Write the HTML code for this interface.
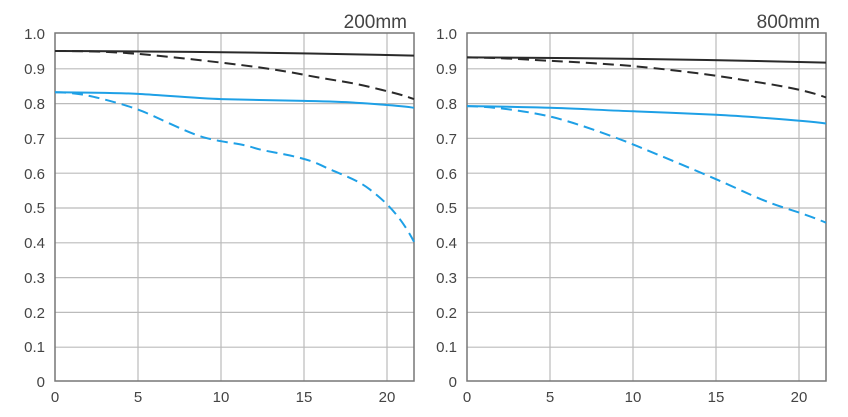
<!DOCTYPE html>
<html><head><meta charset="utf-8"><style>
html,body{margin:0;padding:0;background:#fff;}
svg{display:block;}
text{font-family:"Liberation Sans",sans-serif;fill:#444;}
</style></head><body>
<svg width="848" height="417" viewBox="0 0 848 417" xmlns="http://www.w3.org/2000/svg">
<defs>
<g id="grid">
  <g stroke="#bbb" stroke-width="1.2">
    <line x1="0" y1="68.8" x2="359" y2="68.8"/>
    <line x1="0" y1="103.6" x2="359" y2="103.6"/>
    <line x1="0" y1="138.4" x2="359" y2="138.4"/>
    <line x1="0" y1="173.2" x2="359" y2="173.2"/>
    <line x1="0" y1="208" x2="359" y2="208"/>
    <line x1="0" y1="242.8" x2="359" y2="242.8"/>
    <line x1="0" y1="277.6" x2="359" y2="277.6"/>
    <line x1="0" y1="312.4" x2="359" y2="312.4"/>
    <line x1="0" y1="347.2" x2="359" y2="347.2"/>
    <line x1="83" y1="33" x2="83" y2="381"/>
    <line x1="166" y1="33" x2="166" y2="381"/>
    <line x1="249" y1="33" x2="249" y2="381"/>
    <line x1="332" y1="33" x2="332" y2="381"/>
  </g>
  <rect x="0" y="33" width="359" height="348" fill="none" stroke="#777" stroke-width="1.5"/>
  <g font-size="15" text-anchor="end">
    <text x="-10" y="39">1.0</text>
    <text x="-10" y="74">0.9</text>
    <text x="-10" y="109">0.8</text>
    <text x="-10" y="144">0.7</text>
    <text x="-10" y="179">0.6</text>
    <text x="-10" y="213">0.5</text>
    <text x="-10" y="248">0.4</text>
    <text x="-10" y="283">0.3</text>
    <text x="-10" y="318">0.2</text>
    <text x="-10" y="352">0.1</text>
    <text x="-10" y="387">0</text>
  </g>
  <g font-size="15" text-anchor="middle">
    <text x="0" y="402">0</text>
    <text x="83" y="402">5</text>
    <text x="166" y="402">10</text>
    <text x="249" y="402">15</text>
    <text x="332" y="402">20</text>
  </g>
</g>
</defs>
<g transform="translate(55,0)"><use href="#grid"/></g>
<g transform="translate(467,0)"><use href="#grid"/></g>
<text x="407" y="28" font-size="19" text-anchor="end" fill="#222">200mm</text>
<text x="820" y="28" font-size="19" text-anchor="end" fill="#222">800mm</text>
<g fill="none" stroke-linejoin="round" stroke-width="2">
  <!-- left -->
  <path d="M55,51 Q235,51.5 414,55.6" stroke="#2a2a2a"/>
  <path d="M55,51 C100,51 120,52.5 138,53.9 S190,59 221,62.6 S280,70 304,74.8 S350,82 370,87 S400,94 414,99.1" stroke="#2a2a2a" stroke-dasharray="11,6"/>
  <path d="M55,92.2 C100,92.5 120,93 138,93.9 S200,98.5 221,99.1 S290,100.6 304,100.9 S340,101.6 354,102.6 S400,105.5 414,107.8" stroke="#1ea0e6"/>
  <path d="M55,92.2 C70,92.5 80,94 88,95.6 S120,103 138,109.6 S185,132 204,137.4 S240,143 254,147.8 S300,155 321,165.2 S355,178 370,189.6 S400,215 414,241.8" stroke="#1ea0e6" stroke-dasharray="11,6"/>
  <!-- right -->
  <path d="M467,57.4 Q650,58 826,62.6" stroke="#2a2a2a"/>
  <path d="M467,57.4 C510,58 530,59.8 550,60.8 S610,64 633,66.1 S700,73 733,78.3 S800,88 826,97.4" stroke="#2a2a2a" stroke-dasharray="11,6"/>
  <path d="M467,106.1 C510,106.5 530,107.3 550,107.8 S610,110.5 633,111.3 S700,114 716,114.8 S800,120 826,123.5" stroke="#1ea0e6"/>
  <path d="M467,106.1 C500,107 530,112 550,116.5 S610,135 633,144.4 S690,168 716,179.2 S760,200 782,207 S815,218 826,222.7" stroke="#1ea0e6" stroke-dasharray="11,6"/>
</g>
</svg>
</body></html>
